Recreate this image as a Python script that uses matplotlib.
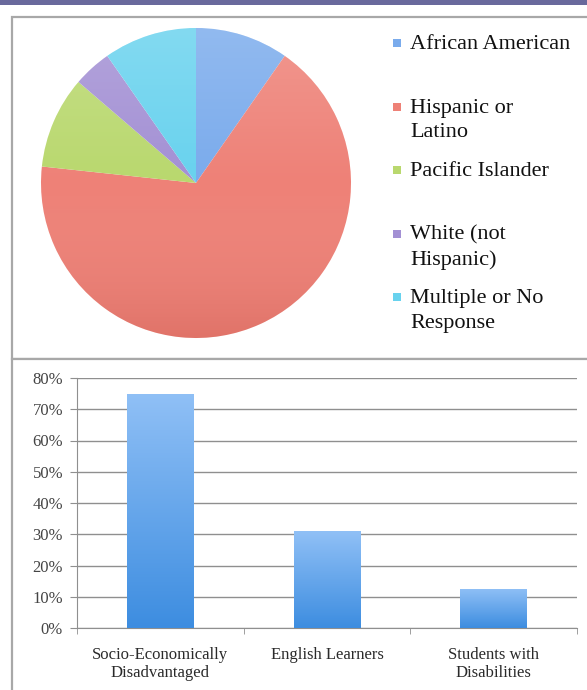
import numpy as np
import matplotlib.pyplot as plt
from matplotlib.patches import Rectangle, Circle
from matplotlib.colors import LinearSegmentedColormap

# ---------------------------------------------------------------------------
# Data
# ---------------------------------------------------------------------------

ethnicity_labels = [
    "African American",
    "Hispanic or\nLatino",
    "Pacific Islander",
    "White (not\nHispanic)",
    "Multiple or No\nResponse",
]
ethnicity_share = [9.7, 67.0, 9.6, 4.0, 9.7]
ethnicity_colors = ["#7aabec", "#ee8177", "#b9d86e", "#a390d4", "#68d2ee"]

group_labels = ["Socio-Economically\nDisadvantaged", "English Learners",
                "Students with\nDisabilities"]
group_pct = [75, 31, 12.5]
y_ticks = [0, 10, 20, 30, 40, 50, 60, 70, 80]

SERIF = ["Liberation Serif", "DejaVu Serif"]
W, H = 587, 690

fig = plt.figure(figsize=(W / 100, H / 100), dpi=100)


def fx(px):
    return px / W


def fy(py):
    return 1 - py / H


# ---------------------------------------------------------------------------
# Background frame
# ---------------------------------------------------------------------------

fig.patches.append(Rectangle((0, fy(5)), 1, 5 / H, transform=fig.transFigure,
                             facecolor="#69699c", edgecolor="none", zorder=-2))
fig.patches.append(Rectangle((fx(12), fy(359)), 1, (359 - 17) / H,
                             transform=fig.transFigure, facecolor="white",
                             edgecolor="#a8a8a8", lw=1.6, zorder=-2))
fig.patches.append(Rectangle((fx(12), fy(700)), 1, (700 - 359) / H,
                             transform=fig.transFigure, facecolor="white",
                             edgecolor="#a8a8a8", lw=1.6, zorder=-2))

# ---------------------------------------------------------------------------
# Pie chart
# ---------------------------------------------------------------------------

ax_pie = fig.add_axes([fx(41), fy(338), 310 / W, 310 / H])
wedges, _ = ax_pie.pie(ethnicity_share, colors=ethnicity_colors, startangle=90,
                       counterclock=False, radius=1.0,
                       wedgeprops=dict(linewidth=0))
ax_pie.set_xlim(-1, 1)
ax_pie.set_ylim(-1, 1)
ax_pie.set_aspect("equal")
ax_pie.axis("off")

# soft vertical shading like the original
shade = LinearSegmentedColormap.from_list(
    "shade", [(1, 1, 1, 0.18), (1, 1, 1, 0.0), (0.55, 0.1, 0.05, 0.14)])
grad = np.linspace(0, 1, 256).reshape(-1, 1)
img = ax_pie.imshow(grad, cmap=shade, extent=(-1, 1, -1, 1), origin="upper",
                    aspect="auto", zorder=3)
img.set_clip_path(Circle((0, 0), 1.0, transform=ax_pie.transData))

# legend drawn by hand (entries top-aligned in equal slots)
for i, (lab, col) in enumerate(zip(ethnicity_labels, ethnicity_colors)):
    y = 35 + i * 63.5
    fig.patches.append(Rectangle((fx(393), fy(y + 12)), 8 / W, 8 / H,
                                 transform=fig.transFigure, facecolor=col,
                                 edgecolor="none"))
    fig.text(fx(410), fy(y), lab, family=SERIF, fontsize=16, va="top",
             ha="left", color="#111111", linespacing=1.4)

# ---------------------------------------------------------------------------
# Bar chart
# ---------------------------------------------------------------------------

ax_bar = fig.add_axes([fx(77), fy(628), 500 / W, 250 / H])
x = np.arange(len(group_labels))
bars = ax_bar.bar(x, group_pct, width=0.4, color="#5fa3ec", zorder=2)
ax_bar.set_xlim(-0.5, len(group_labels) - 0.5)
ax_bar.set_ylim(0, 80)

bar_cmap = LinearSegmentedColormap.from_list("barblue", ["#90c0f6", "#3d8de0"])
for b in bars:
    gi = ax_bar.imshow(grad, cmap=bar_cmap, origin="upper", aspect="auto",
                       extent=(b.get_x(), b.get_x() + b.get_width(), 0,
                               b.get_height()), zorder=3)
    gi.set_clip_path(b)

ax_bar.set_yticks(y_ticks)
ax_bar.set_yticklabels([f"{t}%" for t in y_ticks], family=SERIF, fontsize=12,
                       color="#444444")
ax_bar.yaxis.grid(True, color="#8f8f8f", lw=1.0, zorder=0)
ax_bar.set_xticks(x)
ax_bar.set_xticklabels(group_labels, family=SERIF, fontsize=12, color="#2a2a2a",
                       linespacing=1.15)
ax_bar.set_xticks(np.arange(len(group_labels) + 1) - 0.5, minor=True)
ax_bar.tick_params(axis="x", which="major", length=0, pad=14)
ax_bar.tick_params(axis="x", which="minor", length=4, color="#8f8f8f")
ax_bar.tick_params(axis="y", length=5, color="#8f8f8f", pad=5)
for side in ["top", "right"]:
    ax_bar.spines[side].set_visible(False)
for side in ["left", "bottom"]:
    ax_bar.spines[side].set_color("#8f8f8f")

fig.savefig("out.png", dpi=100)
